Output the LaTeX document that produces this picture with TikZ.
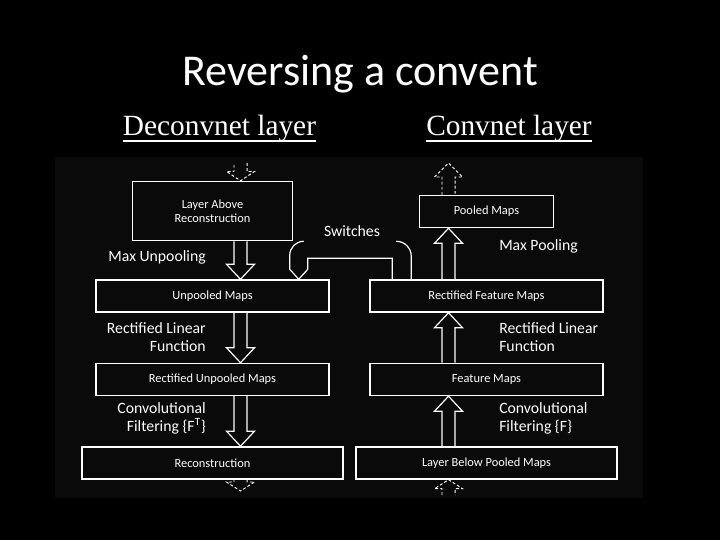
\documentclass[tikz,border=0pt]{standalone}
\usepackage{fontspec}
\usepackage{tikz}
\usetikzlibrary{positioning, calc}
\newfontfamily\slidefont{Carlito}
\newfontfamily\headfont{Liberation Serif}
\definecolor{slideBg}{HTML}{000000}
\definecolor{panelBg}{HTML}{0A0A0A}

% hollow block arrow: [style]{head length}{from}{tip}
\newcommand{\hollowarrow}[4][]{%
  \coordinate (ha-base) at ($(#4)!#2!(#3)$);
  \draw[passarrow, #1] ($(#3)!4.9pt!90:(#4)$) -- ($(ha-base)!4.9pt!90:(#4)$)
    -- ($(ha-base)!10.5pt!90:(#4)$) -- (#4) -- ($(ha-base)!10.5pt!-90:(#4)$)
    -- ($(ha-base)!4.9pt!-90:(#4)$) -- ($(#3)!4.9pt!-90:(#4)$);
}

\begin{document}
\begin{tikzpicture}[
    x=0.75pt, y=-0.75pt,
    layerbox/.style={draw=white, line width=1.1pt, text=white, inner sep=0pt, align=center,
      font=\slidefont\fontsize{9.3}{10.5}\selectfont},
    wide/.style={layerbox, minimum width=233*0.75pt, minimum height=32*0.75pt},
    widest/.style={layerbox, minimum width=261*0.75pt, minimum height=32*0.75pt},
    stepnote/.style={text=white, inner sep=0pt, font=\slidefont\fontsize{11.8}{13.5}\selectfont},
    header/.style={text=white, inner sep=0pt, font=\headfont\fontsize{22}{26}\selectfont},
    underlineStyle/.style={draw=white, line width=1.3pt},
    passarrow/.style={draw=white, line width=0.9pt, line join=miter},
    ghostarrow/.style={line width=0.7pt, dash pattern=on 2.2pt off 1.6pt}
]

\fill[slideBg] (0,0) rectangle (720,540);
\fill[panelBg] (55,157) rectangle (643,498);

\node[text=white, font=\slidefont\fontsize{33}{36}\selectfont, anchor=base] (title) at (360,85) {Reversing a convent};

% column headers
\node[header, anchor=base] (deconHead) at (219.5,135) {Deconvnet layer};
\node[header, anchor=base] (convHead) at (509,135) {Convnet layer};
\draw[underlineStyle] ($(deconHead.base west)+(0,6)$) -- ($(deconHead.base east)+(0,6)$);
\draw[underlineStyle] ($(convHead.base west)+(0,6)$) -- ($(convHead.base east)+(0,6)$);

% deconvnet side
\node[wide] (unpooled) at (212.5,296) {Unpooled Maps};
\node[layerbox, minimum width=160*0.75pt, minimum height=59*0.75pt, above=28.5pt of unpooled] (above) {Layer Above\\Reconstruction};
\node[wide, below=37.5pt of unpooled] (rectunpooled) {Rectified Unpooled Maps};
\node[widest, below=37.5pt of rectunpooled] (recon) {Reconstruction};

% convnet side
\node[wide] (rectfeat) at (486.5,296) {Rectified Feature Maps};
\node[layerbox, minimum width=134*0.75pt, minimum height=32*0.75pt, above=38.25pt of rectfeat] (pooled) {Pooled Maps};
\node[wide, below=37.5pt of rectfeat] (feat) {Feature Maps};
\node[widest, below=37.5pt of feat] (below) {Layer Below Pooled Maps};

% arrow columns
\coordinate (lcol) at (240.5,0);
\coordinate (rcol) at (448.5,0);

\foreach \a/\b in {above/unpooled, unpooled/rectunpooled, rectunpooled/recon} {
  \coordinate (\a-out) at (lcol |- \a.south);
  \coordinate (\b-in) at (lcol |- \b.north);
  \hollowarrow{11.25pt}{\a-out}{\b-in}
}
\foreach \a/\b in {below/feat, feat/rectfeat, rectfeat/pooled} {
  \coordinate (\a-out) at (rcol |- \a.north);
  \coordinate (\b-in) at (rcol |- \b.south);
  \hollowarrow{11.25pt}{\a-out}{\b-in}
}

% dashed arrows in and out of the layer
\coordinate (deconEntry) at (240.5,163);
\coordinate (above-in) at (lcol |- above.north);
\hollowarrow[ghostarrow]{7pt}{deconEntry}{above-in}
\coordinate (recon-out) at (lcol |- recon.south);
\coordinate (deconExit) at (240.5,491);
\hollowarrow[ghostarrow]{6.75pt}{recon-out}{deconExit}
\coordinate (pooled-out) at (rcol |- pooled.north);
\coordinate (convExit) at (448.5,163);
\hollowarrow[ghostarrow]{10.5pt}{pooled-out}{convExit}
\coordinate (convEntry) at (448.5,495);
\coordinate (below-in) at (rcol |- below.south);
\hollowarrow[ghostarrow]{6.75pt}{convEntry}{below-in}

% switches
\coordinate (swA) at ($(rectfeat.north west)+(42,0)$);
\coordinate (swB) at ($(rectfeat.north west)+(23,0)$);
\coordinate (swTip) at ($(unpooled.north east)+(-31,0)$);
\draw[passarrow] (swA) -- ($(swA)+(0,-23)$) .. controls ($(swA)+(0,-31.3)$) and ($(swA)+(-6.7,-38)$) .. ($(swA)+(-15,-38)$);
\draw[passarrow] ($(swTip)+(5,-38)$) .. controls ($(swTip)+(-2.7,-38)$) and ($(swTip)+(-9,-31.7)$) .. ($(swTip)+(-9,-24)$)
  -- ($(swTip)+(-9,-10)$) -- (swTip) -- ($(swTip)+(9,-10)$) -- ($(swTip)+(9,-21)$) -- ($(swB)+(0,-21)$) -- (swB);
\node[stepnote] (switchNote) at (352,231) {Switches};

% step labels
\node[stepnote, anchor=east] (unpoolNote) at (206,257) {Max Unpooling};
\node[stepnote, anchor=east, align=right] (reluNoteL) at (206,337) {Rectified Linear\\Function};
\node[stepnote, anchor=east, align=right] (filterNoteL) at (206,418) {Convolutional\\Filtering \{F\textsuperscript{T}\}};
\node[stepnote, anchor=west] (poolNote) at (499,246) {Max Pooling};
\node[stepnote, anchor=west, align=left] (reluNoteR) at (499,337) {Rectified Linear\\Function};
\node[stepnote, anchor=west, align=left] (filterNoteR) at (499,418) {Convolutional\\Filtering \{F\}};

\end{tikzpicture}
\end{document}
